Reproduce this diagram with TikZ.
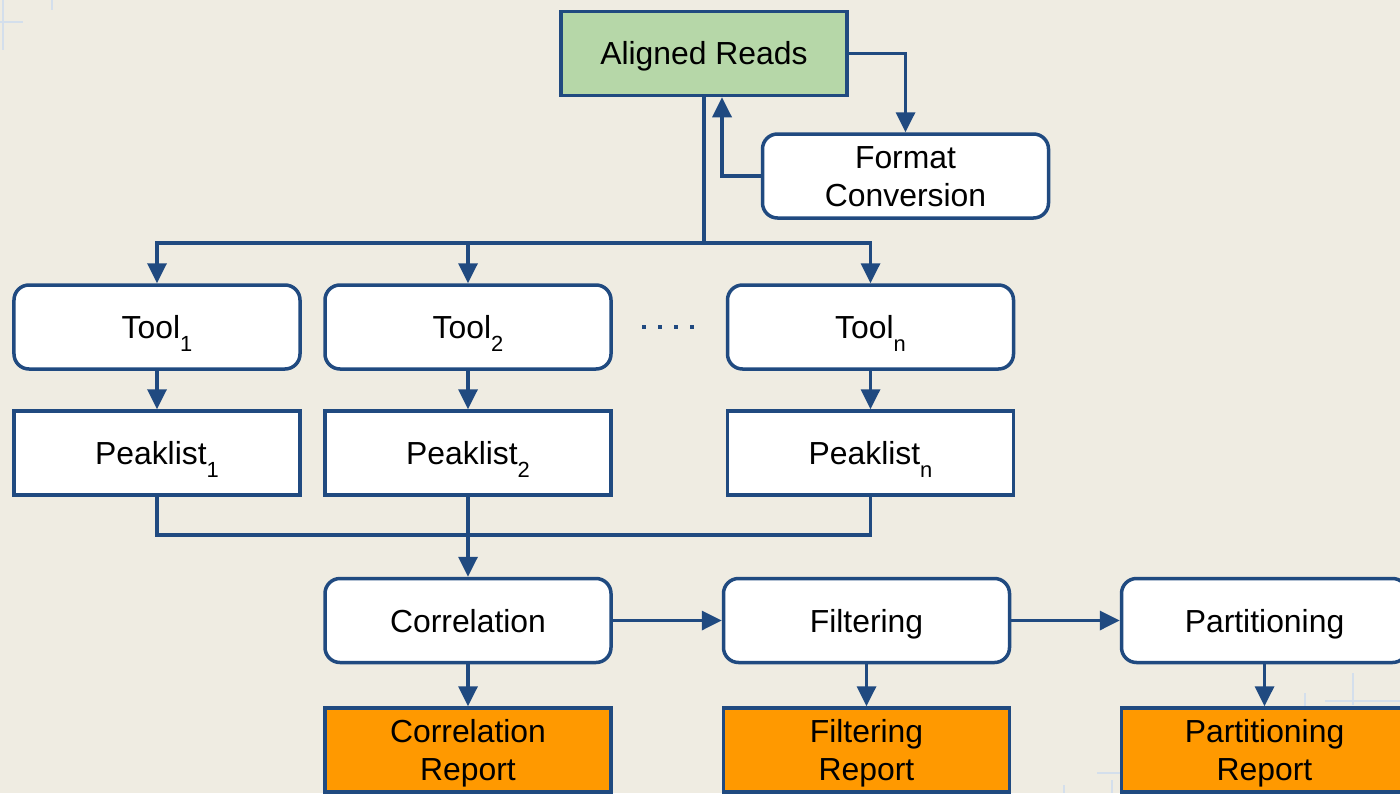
\documentclass[tikz,border=0pt]{standalone}
\usepackage{fontspec}
\setmainfont{Liberation Sans}
\usetikzlibrary{arrows.meta,calc}

\definecolor{paper}{RGB}{239,236,226}
\definecolor{edge}{RGB}{32,74,128}
\definecolor{readsgreen}{RGB}{182,215,168}
\definecolor{reportorange}{RGB}{255,153,0}
\definecolor{gridblue}{RGB}{212,223,236}

\newcommand\idx[1]{\raisebox{-0.42em}{\fontsize{22}{22}\selectfont #1}}

\tikzset{
  x=1bp, y=-1bp,
  box/.style={draw=edge, line width=3.5bp, minimum width=286bp, minimum height=84bp,
              inner sep=0pt, align=center, text=black,
              font=\fontsize{32}{38}\selectfont},
  oneline/.style={text height=23bp, text depth=0pt},
  twoline/.style={text height=61bp, text depth=0pt},
  stepbox/.style={box, fill=white, rounded corners=15bp},
  listbox/.style={box, fill=white},
  readsbox/.style={box, fill=readsgreen},
  reportbox/.style={box, fill=reportorange, twoline},
  flow/.style={draw=edge, line width=3.5bp, -{Triangle[length=20bp,width=19bp]}},
  wire/.style={draw=edge, line width=3.5bp},
  faint/.style={draw=gridblue, line width=2.5bp}
}

\begin{document}
\begin{tikzpicture}
  \useasboundingbox (0,0) rectangle (1400,793);
  \clip (0,0) rectangle (1400,793);
  \fill[paper] (0,0) rectangle (1400,793);

  % faint background cross marks
  \draw[faint] (3,0) -- (3,50);
  \draw[faint] (0,22) -- (23,22);
  \draw[faint] (52,0) -- (52,10);
  \draw[faint] (1353,673) -- (1353,705);
  \draw[faint] (1325,701) -- (1400,701);
  \draw[faint] (1305,693) -- (1305,706);
  \draw[faint] (1097,773) -- (1122,773);
  \draw[faint] (1112,780) -- (1112,793);
  \draw[faint] (1064,785) -- (1064,793);

  % input and conversion
  \node[readsbox, oneline] (ar) at (704,53.5) {Aligned Reads};
  \node[stepbox, twoline]  (fc) at (905.5,176) {Format\\Conversion};

  % peak callers
  \node[stepbox, oneline] (t1) at (157,327)   {Tool\idx{1}};
  \node[stepbox, oneline] (t2) at (468,327)   {Tool\idx{2}};
  \node[stepbox, oneline] (tn) at (870.5,327) {Tool\idx{n}};
  \foreach \dx in {0,16,32,48}
    \fill[edge] ($(644,327)+(\dx,0)$) ++(-2.2,-2.2) rectangle ++(4.4,4.4);

  % peak lists
  \node[listbox, oneline] (p1) at (157,453)   {Peaklist\idx{1}};
  \node[listbox, oneline] (p2) at (468,453)   {Peaklist\idx{2}};
  \node[listbox, oneline] (pn) at (870.5,453) {Peaklist\idx{n}};

  % analysis steps
  \node[stepbox, oneline] (corr) at (468,620.5)    {Correlation};
  \node[stepbox, oneline] (filt) at (866.5,620.5)  {Filtering};
  \node[stepbox, oneline] (part) at (1264.5,620.5) {Partitioning};

  % reports
  \node[reportbox] (rc) at (468,750)    {Correlation\\Report};
  \node[reportbox] (rf) at (866.5,750)  {Filtering\\Report};
  \node[reportbox] (rp) at (1264.5,750) {Partitioning\\Report};

  % conversion loop
  \draw[flow] (ar.east) -| (fc.north);
  \draw[flow] (fc.west) -| ([xshift=18bp]ar.south);

  % fan-out to the tools
  \coordinate (split) at (704,243);
  \draw[wire] (ar.south) -- (split);
  \draw[flow] (split) -| (t1.north);
  \draw[flow] (split) -| (tn.north);
  \draw[flow] (t2.north |- split) -- (t2.north);

  \draw[flow] (t1) -- (p1);
  \draw[flow] (t2) -- (p2);
  \draw[flow] (tn) -- (pn);

  % merge into correlation
  \coordinate (merge) at (468,535);
  \draw[wire] (p1.south) |- (merge);
  \draw[wire] (pn.south) |- (merge);
  \draw[flow] (p2.south) -- (corr.north);

  % pipeline
  \draw[flow] (corr) -- (filt);
  \draw[flow] (filt) -- (part);
  \draw[flow] (corr) -- (rc);
  \draw[flow] (filt) -- (rf);
  \draw[flow] (part) -- (rp);
\end{tikzpicture}
\end{document}
